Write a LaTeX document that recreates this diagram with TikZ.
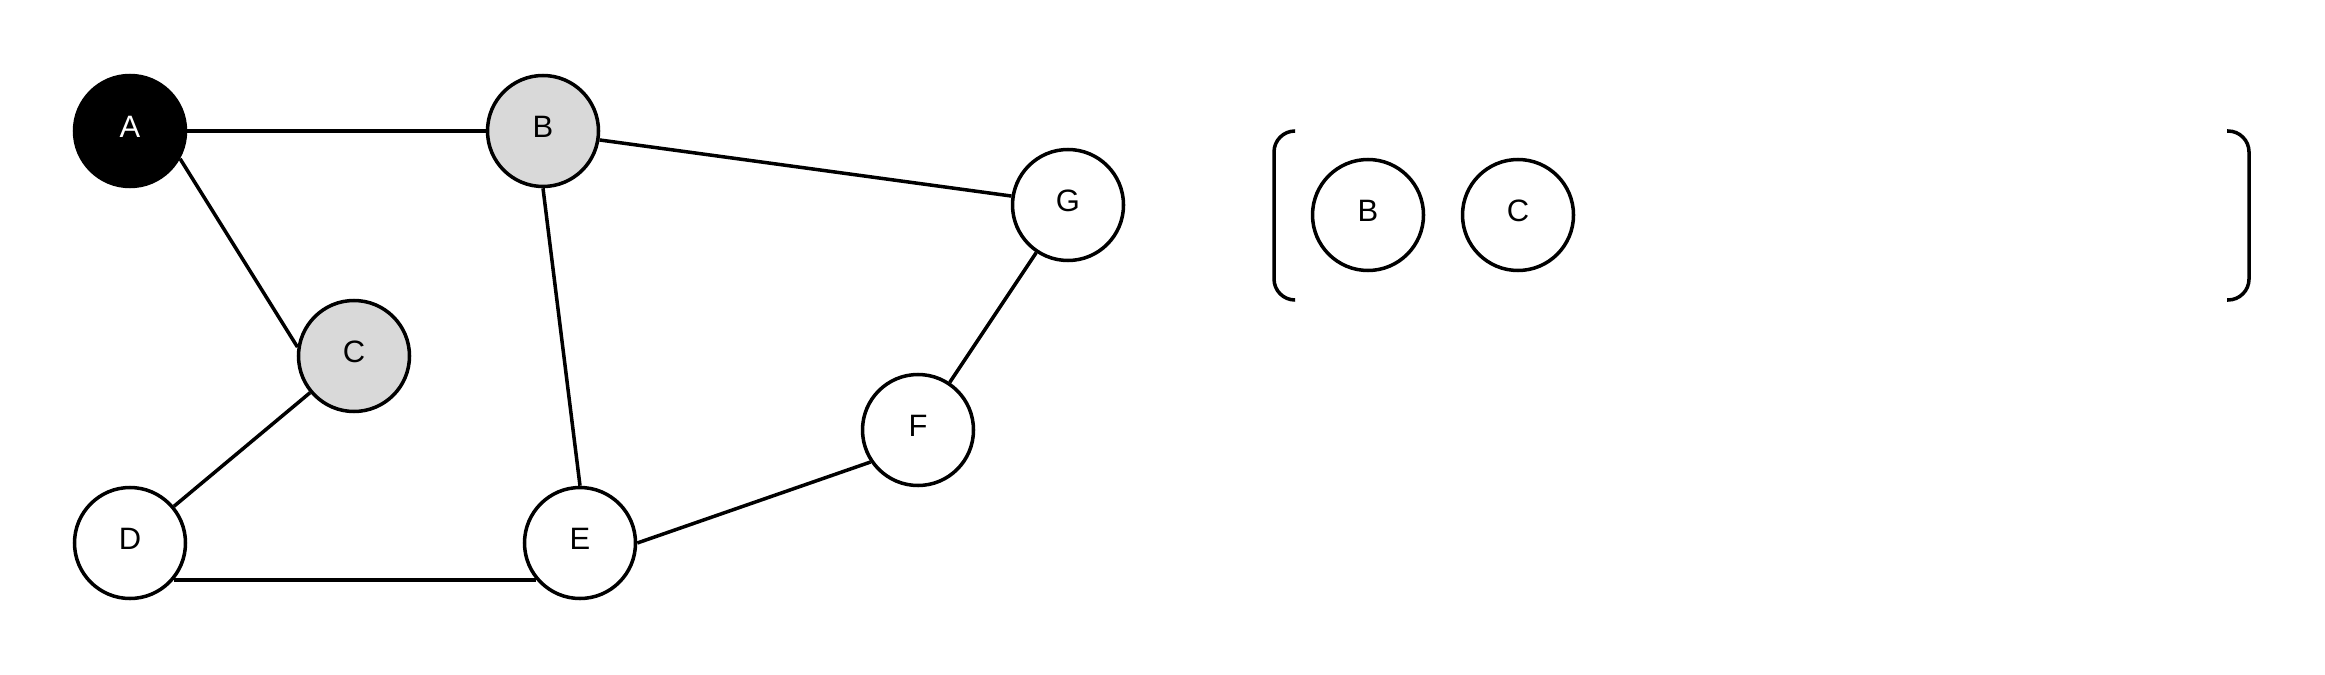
\documentclass[tikz,border=0pt]{standalone}
\usepackage{fontspec}
\setmainfont{Liberation Sans}
\begin{document}
\begin{tikzpicture}[x=.1mm,y=-.1mm,line width=1pt,
  vertex/.style={circle,draw,fill=white,minimum size=11.1mm,inner sep=0pt,
    font=\fontsize{8.8}{10}\selectfont,text height=2.2mm,text depth=.9mm},
  seen/.style={vertex,fill=black!15},
  start/.style={vertex,fill=black,text=white}]
 \useasboundingbox (0,0) rectangle (2325,675);
 % graph
 \node[start] (A) at (130,131) {A};
 \node[seen] (B) at (543,131) {B};
 \node[vertex] (G) at (1068,205) {G};
 \node[seen] (C) at (354,356) {C};
 \node[vertex] (F) at (918,430) {F};
 \node[vertex] (D) at (130,543) {D};
 \node[vertex] (E) at (580,543) {E};
 \draw (A)--(B);
 \draw (A.-29)--(C.171);
 \draw (B.-9)--(G.171);
 \draw (B.south)--(E.north);
 \draw (C)--(D);
 \draw (D.-40)--(E.-140);
 \draw (E.east)--(F.214);
 \draw (F)--(G);
 % queue
 \node[vertex] (qB) at (1368,215) {B};
 \node[vertex] (qC) at (1518,215) {C};
 \draw[rounded corners=2.1mm] (1295,131)--(1274,131)--(1274,300)--(1295,300);
 \draw[rounded corners=2.1mm] (2227,131)--(2249,131)--(2249,300)--(2227,300);
\end{tikzpicture}
\end{document}
